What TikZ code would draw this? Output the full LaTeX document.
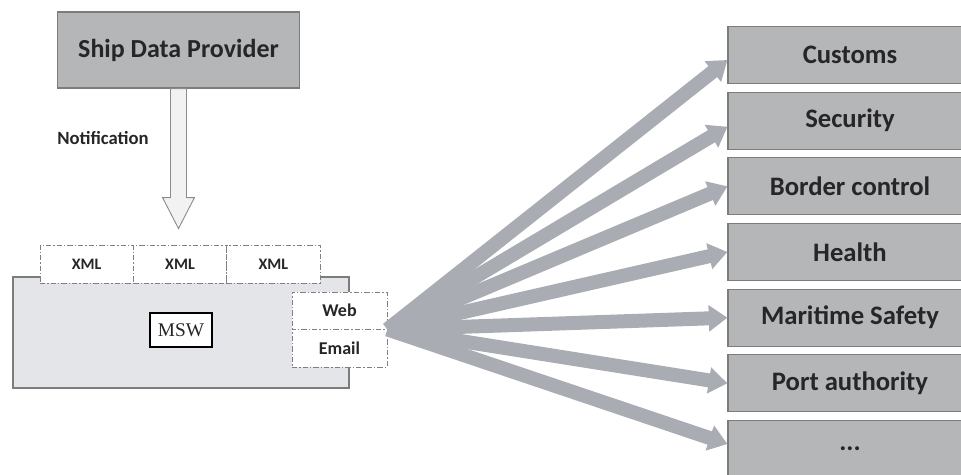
\documentclass[tikz,border=0pt]{standalone}
\usepackage{fontspec}
\setmainfont{Carlito}
\newfontfamily\mswfont{Liberation Serif}
\usetikzlibrary{arrows.meta,calc}
\definecolor{boxgray}{HTML}{B5B6B8}
\definecolor{boxedge}{HTML}{7C7C7C}
\definecolor{mswfill}{HTML}{E3E5E9}
\definecolor{fangray}{HTML}{A9ACB2}
\definecolor{txt}{HTML}{262626}
\begin{document}
\begin{tikzpicture}[x=0.75pt,y=-0.75pt,
  grayrect/.style={draw=boxedge, fill=boxgray, line width=0.8pt, text=txt,
    font=\bfseries\fontsize{20}{23}\selectfont, inner sep=0pt},
  agency/.style={grayrect, minimum width=183pt, minimum height=42.75pt},
  tabbox/.style={draw=gray, fill=white, line width=0.6pt,
    dash pattern=on 4pt off 1.5pt on 1pt off 1.5pt, text=txt,
    font=\bfseries\fontsize{12}{14}\selectfont, inner sep=0pt},
  fan/.style={draw=fangray, line width=10.5pt, -{Triangle[length=14pt,width=19pt]}},
  notif/.style={draw=gray!90, fill=black!5, line width=0.7pt}
]
\useasboundingbox (0,0) rectangle (961,475);

% Ship Data Provider
\node[grayrect, minimum width=182pt, minimum height=57pt, font=\bfseries\fontsize{19.5}{23}\selectfont] (sdp) at (178.5,50) {Ship Data Provider};

% MSW main box
\node[draw=boxedge, fill=mswfill, line width=0.8pt, minimum width=252pt, minimum height=83.25pt, inner sep=0pt] (mswbox) at (181,332.5) {};

% notification arrow
\coordinate (ntop) at (sdp.south);
\coordinate (ntip) at ($(sdp.south)+(0,140)$);
\draw[notif] ($(ntop)+(-8,0)$) -- ($(ntop)+(-8,109)$) -- ($(ntop)+(-16,109)$) -- (ntip)
  -- ($(ntop)+(16,109)$) -- ($(ntop)+(8,109)$) -- ($(ntop)+(8,0)$) -- cycle;
\node[anchor=west, text=txt, font=\bfseries\fontsize{14}{16}\selectfont, inner sep=0pt] (notiflabel) at (57,138) {Notification};

% XML tabs
\node[tabbox, minimum width=70pt, minimum height=28.5pt] (xml1) at (86.7,264) {XML};
\node[tabbox, minimum width=70pt, minimum height=28.5pt] (xml2) at (180,264) {XML};
\node[tabbox, minimum width=70pt, minimum height=28.5pt] (xml3) at (273.3,264) {XML};

% MSW label
\node[draw=black, fill=white, line width=1.5pt, minimum width=46.5pt, minimum height=25.5pt, inner sep=0pt,
  font=\mswfont\fontsize{14.5}{17}\selectfont, text=txt] (msw) at (181,330) {MSW};

% Web / Email
\node[tabbox, minimum width=71.25pt, minimum height=27.75pt, font=\bfseries\fontsize{13.5}{15}\selectfont] (web) at (339.5,310.5) {Web};
\node[tabbox, minimum width=71.25pt, minimum height=28.5pt, font=\bfseries\fontsize{13.5}{15}\selectfont] (email) at (339.5,348) {Email};

\coordinate (fanorigin) at (web.south east);

% agency boxes
\node[agency] (customs) at (850,55) {Customs};
\node[agency] (security) at (850,120.7) {Security};
\node[agency] (border) at (850,186.3) {Border control};
\node[agency] (health) at (850,252) {Health};
\node[agency] (maritime) at (850,317.7) {Maritime Safety};
\node[agency] (port) at (850,383.3) {Port authority};
\node[agency] (more) at (850,449) {...};

% fan arrows
\draw[fan] (fanorigin) -- ($(customs.west)+(0,5)$);
\draw[fan] (fanorigin) -- ($(security.west)+(0,6)$);
\draw[fan] (fanorigin) -- (border.west);
\draw[fan] (fanorigin) -- (health.west);
\draw[fan] (fanorigin) -- (maritime.west);
\draw[fan] (fanorigin) -- (port.west);
\draw[fan] (fanorigin) -- ($(more.west)+(0,-5)$);
\end{tikzpicture}
\end{document}
